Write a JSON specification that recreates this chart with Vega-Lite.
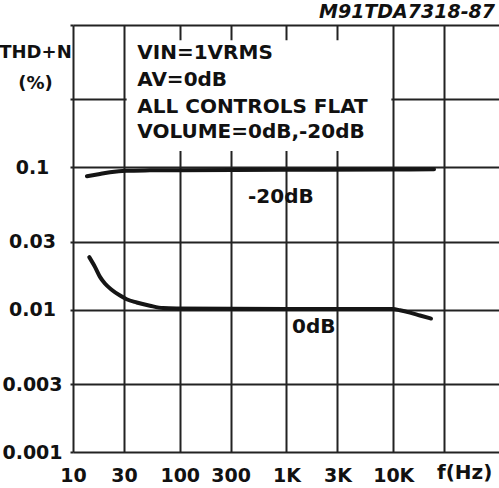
{
  "$schema": "https://vega.github.io/schema/vega-lite/v6.json",
  "width": 427,
  "height": 427,
  "autosize": {"type": "none"},
  "padding": {"left": 73, "top": 25, "right": 0, "bottom": 36},
  "background": "white",
  "config": {
    "view": {"stroke": null},
    "font": "DejaVu Sans",
    "axis": {
      "labelFont": "DejaVu Sans",
      "labelFontWeight": "bold",
      "labelFontSize": 19,
      "labelColor": "#111",
      "gridColor": "#222",
      "gridWidth": 2,
      "gridOpacity": 1,
      "domain": false,
      "tickColor": "#222",
      "tickWidth": 2
    }
  },
  "datasets": {
    "curves": [
      {"series": "-20dB", "f": 13.5, "v": 0.0866},
      {"series": "-20dB", "f": 17.9, "v": 0.0899},
      {"series": "-20dB", "f": 22.2, "v": 0.0923},
      {"series": "-20dB", "f": 31.4, "v": 0.0946},
      {"series": "-20dB", "f": 52.6, "v": 0.0952},
      {"series": "-20dB", "f": 98.4, "v": 0.0955},
      {"series": "-20dB", "f": 989, "v": 0.096},
      {"series": "-20dB", "f": 9950, "v": 0.0965},
      {"series": "-20dB", "f": 24100, "v": 0.097},
      {"series": "0dB", "f": 14.2, "v": 0.0234},
      {"series": "0dB", "f": 16.1, "v": 0.0199},
      {"series": "0dB", "f": 17.9, "v": 0.017},
      {"series": "0dB", "f": 19.9, "v": 0.01527},
      {"series": "0dB", "f": 23.0, "v": 0.01381},
      {"series": "0dB", "f": 27.6, "v": 0.01256},
      {"series": "0dB", "f": 31.8, "v": 0.01184},
      {"series": "0dB", "f": 39.5, "v": 0.01123},
      {"series": "0dB", "f": 52.6, "v": 0.01066},
      {"series": "0dB", "f": 69.7, "v": 0.01026},
      {"series": "0dB", "f": 93.6, "v": 0.0102},
      {"series": "0dB", "f": 989, "v": 0.0101},
      {"series": "0dB", "f": 9950, "v": 0.0101},
      {"series": "0dB", "f": 11560, "v": 0.0099},
      {"series": "0dB", "f": 14350, "v": 0.00953},
      {"series": "0dB", "f": 17800, "v": 0.0091},
      {"series": "0dB", "f": 22600, "v": 0.00866}
    ],
    "box": [
      {"f": 31.8, "f2": 9600, "v": 0.13, "v2": 0.78}
    ],
    "notes": [
      {"label": "VIN=1VRMS", "f": 40, "v": 0.636},
      {"label": "AV=0dB", "f": 40, "v": 0.411},
      {"label": "ALL CONTROLS FLAT", "f": 40, "v": 0.265},
      {"label": "VOLUME=0dB,-20dB", "f": 40, "v": 0.177},
      {"label": "-20dB", "f": 436, "v": 0.0618},
      {"label": "0dB", "f": 1126, "v": 0.00755},
      {"label": "f(Hz)", "f": 25700, "v": 0.000712}
    ],
    "code": [
      {"label": "M91TDA7318-87", "f": 89800, "v": 1.244}
    ]
  },
  "encoding": {
    "x": {
      "field": "f",
      "type": "quantitative",
      "scale": {"type": "log", "domain": [10, 100000], "nice": false},
      "axis": {
        "orient": "bottom",
        "title": null,
        "values": [10, 30, 100, 300, 1000, 3000, 10000, 30000],
        "labelExpr": "datum.value >= 30000 ? '' : datum.value >= 1000 ? (datum.value / 1000) + 'K' : '' + datum.value",
        "ticks": false,
        "labelPadding": 23,
        "labelBaseline": "middle",
        "labelAlign": "center",
        "labelFlush": false,
        "labelOverlap": false,
        "grid": true
      }
    },
    "y": {
      "field": "v",
      "type": "quantitative",
      "scale": {"type": "log", "domain": [0.001, 1], "nice": false},
      "axis": {
        "orient": "left",
        "title": ["THD+N", "(%)"],
        "titleAngle": 0,
        "titleAlign": "center",
        "titleBaseline": "middle",
        "titleX": -38,
        "titleY": 27,
        "titleLineHeight": 31,
        "titleFont": "DejaVu Sans",
        "titleFontWeight": "bold",
        "titleFontSize": 18,
        "titleColor": "#111",
        "values": [0.001, 0.003, 0.01, 0.03, 0.1, 0.3, 1],
        "labelExpr": "datum.value >= 0.2 ? '' : format(datum.value, '~g')",
        "ticks": true,
        "tickSize": 3,
        "labelPadding": 38,
        "labelAlign": "center",
        "labelBaseline": "middle",
        "labelFlush": false,
        "labelOverlap": false,
        "grid": true
      }
    }
  },
  "layer": [
    {
      "data": {"name": "box"},
      "mark": {"type": "rect", "fill": "white", "stroke": null},
      "encoding": {
        "x2": {"field": "f2"},
        "y2": {"field": "v2"}
      }
    },
    {
      "data": {"name": "curves"},
      "mark": {"type": "line", "strokeWidth": 4, "strokeCap": "round", "color": "#151515", "interpolate": "monotone"},
      "encoding": {
        "detail": {"field": "series", "type": "nominal"}
      }
    },
    {
      "data": {"name": "notes"},
      "mark": {"type": "text", "align": "left", "baseline": "middle", "font": "DejaVu Sans", "fontWeight": "bold", "fontSize": 20, "color": "#111"},
      "encoding": {
        "text": {"field": "label", "type": "nominal"}
      }
    },
    {
      "data": {"name": "code"},
      "mark": {"type": "text", "align": "right", "baseline": "middle", "font": "DejaVu Sans", "fontStyle": "italic", "fontWeight": "bold", "fontSize": 19, "color": "#111"},
      "encoding": {
        "text": {"field": "label", "type": "nominal"}
      }
    }
  ]
}
